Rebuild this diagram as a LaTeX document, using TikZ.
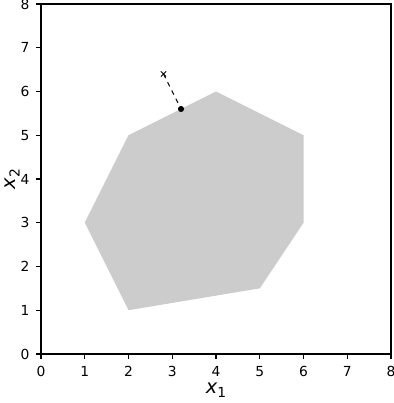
\documentclass[tikz,border=0pt]{standalone}
\usepackage{fontspec}
\setmainfont{DejaVu Sans}
\usepackage{xcolor}
\usepackage{tikz}
\usetikzlibrary{calc}
\definecolor{regiongray}{HTML}{CCCCCC}
\newcommand{\varlabel}[1]{\textit{x}\raisebox{-0.22em}{\fontsize{9}{10}\selectfont #1}}

\begin{document}
\begin{tikzpicture}[x=1cm, y=1cm,
    ticklabel/.style={font=\fontsize{9}{10}\selectfont},
    axislabel/.style={font=\fontsize{12.6}{14}\selectfont, inner sep=0pt}]
    \useasboundingbox (-0.937, -1.12) rectangle (8.046, 8.091);

    % Feasible region
    \fill[regiongray] (2,1) -- (5,1.5) -- (6,3) -- (6,5) -- (4,6) -- (2,5) -- (1,3) -- cycle;

    % Point and its projection
    \coordinate (pt) at (2.8, 6.4);
    \coordinate (proj) at (3.2, 5.6);
    \draw[black, dashed, line width=0.7pt] (pt) -- (proj);
    \fill[black] (proj) circle (0.07);
    \draw[black, line width=0.6pt] ($(pt)+(-0.06,-0.06)$) -- ($(pt)+(0.06,0.06)$)
        ($(pt)+(-0.06,0.06)$) -- ($(pt)+(0.06,-0.06)$);

    % Axes frame and ticks
    \draw[line width=0.72pt] (0,0) rectangle (8,8);
    \foreach \v in {0,...,8} {
        \draw[line width=0.72pt] (\v,0) -- (\v,-0.11);
        \node[ticklabel, anchor=north] at (\v,-0.16) {\v};
        \draw[line width=0.72pt] (0,\v) -- (-0.11,\v);
        \node[ticklabel, anchor=east] at (-0.14,\v) {\v};
    }
    \node[axislabel] (xlab) at (4,-0.82) {\varlabel{1}};
    \node[axislabel, rotate=90] (ylab) at (-0.66,4) {\varlabel{2}};
\end{tikzpicture}
\end{document}
